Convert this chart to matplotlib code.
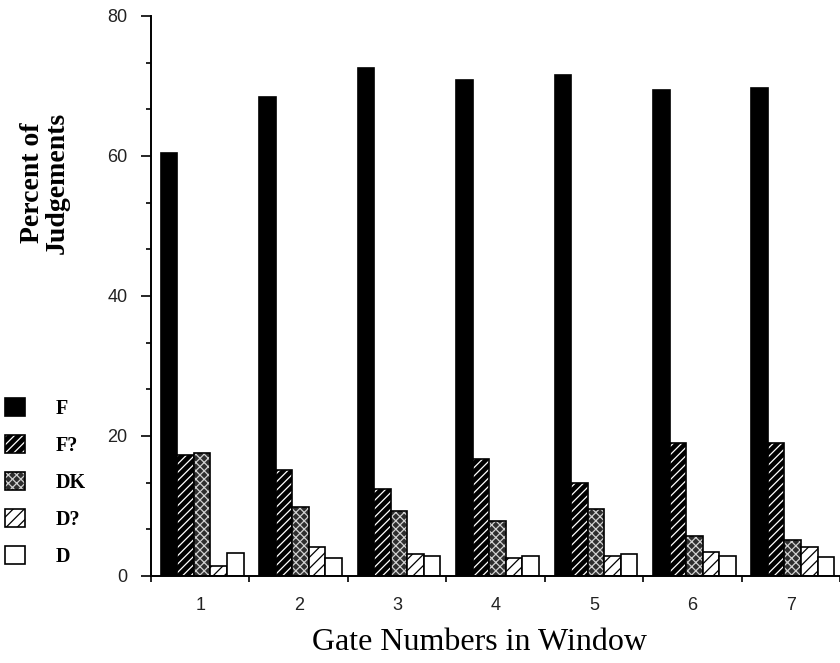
import numpy as np
import matplotlib.pyplot as plt
from matplotlib.patches import Patch

# percent of judgements per gate, one list per response category
gates = ["1", "2", "3", "4", "5", "6", "7"]
categories = ["F", "F?", "DK", "D?", "D"]
f_sure = [60.5, 68.4, 72.6, 70.9, 71.6, 69.4, 69.7]
f_maybe = [17.3, 15.2, 12.5, 16.7, 13.3, 19.0, 19.0]
dont_know = [17.6, 9.9, 9.3, 7.8, 9.6, 5.7, 5.2]
d_maybe = [1.5, 4.1, 3.2, 2.6, 2.8, 3.5, 4.1]
d_sure = [3.3, 2.6, 2.9, 2.9, 3.2, 2.9, 2.7]
series = [f_sure, f_maybe, dont_know, d_maybe, d_sure]

# fill colour, hatch colour, hatch pattern
looks = [
    ("black", "black", None),
    ("black", "white", "////"),
    ("#2e2e2e", "#d0d0d0", "xxxx"),
    ("white", "black", "///"),
    ("white", "black", None),
]

plt.rcParams["hatch.linewidth"] = 0.9
serif = "Liberation Serif"
sans = "Liberation Sans"

fig = plt.figure(figsize=(8.4, 6.63), dpi=100)
ax = fig.add_axes([151 / 840, 87 / 663, 689 / 840, 560 / 663])

x = np.arange(len(gates))
width = 0.168
start = 0.1

handles = []
for i, vals in enumerate(series):
    face, hcol, hatch = looks[i]
    left = x + start + i * width
    ax.bar(left, vals, width, align="edge", color=face, edgecolor=hcol,
           hatch=hatch, linewidth=0)
    ax.bar(left, vals, width, align="edge", fill=False, edgecolor="black",
           linewidth=1.2)
    handles.append((Patch(facecolor=face, edgecolor=hcol, hatch=hatch, linewidth=0),
                    Patch(fill=False, edgecolor="black", linewidth=1.2)))

ax.set_xlim(0, 6.99)
ax.set_ylim(0, 80)

for side in ["top", "right"]:
    ax.spines[side].set_visible(False)
for side in ["left", "bottom"]:
    ax.spines[side].set_linewidth(1.4)

# y axis: labels every 20, small ticks every third of that
ax.set_yticks([0, 20, 40, 60, 80])
ax.set_yticks(np.arange(0, 80.1, 20 / 3), minor=True)
ax.tick_params(axis="y", which="major", length=7, width=1.2, pad=10,
               labelsize=13, labelcolor="#222222")
ax.tick_params(axis="y", which="minor", length=3.5, width=1.2)

# x axis: ticks between groups, gate numbers centred under each group
ax.set_xticks(np.arange(0, 8))
ax.set_xticklabels([])
ax.set_xticks(x + 0.5, minor=True)
ax.set_xticklabels(gates, minor=True)
ax.tick_params(axis="x", which="major", length=4, width=1.2)
ax.tick_params(axis="x", which="minor", length=0, pad=15,
               labelsize=13, labelcolor="#222222")

for lab in ax.get_xticklabels(minor=True) + ax.get_yticklabels():
    lab.set_family(sans)

fig.text(45 / 840, 1 - 183 / 663, "Percent of\nJudgements", rotation=90,
         ha="center", va="center", multialignment="center", linespacing=1.0,
         family=serif, weight="bold", fontsize=20)
fig.text(480 / 840, 1 - 643 / 663, "Gate Numbers in Window", ha="center",
         va="center", family=serif, fontsize=23)

fig.legend(handles, categories, loc="upper left",
           bbox_to_anchor=(5 / 840, 1 - 398 / 663), bbox_transform=fig.transFigure,
           frameon=False, prop={"family": serif, "weight": "bold", "size": 14.5},
           handlelength=1.0, handleheight=1.0, handletextpad=1.5,
           labelspacing=0.8, borderpad=0, borderaxespad=0)

fig.savefig("out.png", dpi=100)
